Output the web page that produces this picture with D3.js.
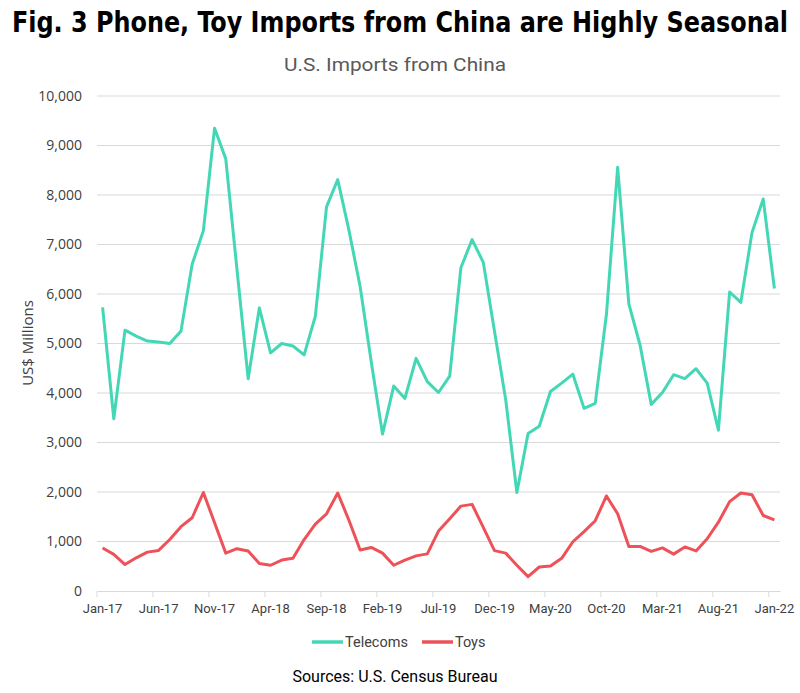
<!DOCTYPE html>
<html>
<head>
<meta charset="utf-8">
<script src="https://cdn.jsdelivr.net/npm/d3@7/dist/d3.min.js"></script>
<style>
  html, body { margin: 0; padding: 0; background: #fff; }
  svg { display: block; }
</style>
</head>
<body>
<svg id="chart" width="800" height="693"></svg>
<script>
const monthNames = ["Jan","Feb","Mar","Apr","May","Jun","Jul","Aug","Sep","Oct","Nov","Dec"];
const startYear = 17;
const monthCount = 61;
const months = d3.range(monthCount).map(i => monthNames[i % 12] + "-" + (startYear + Math.floor(i / 12)));

const telecoms = [
  5730, 3480, 5270, 5150, 5050, 5030, 5000, 5250, 6600, 7280, 9350, 8730,
  6500, 4290, 5720, 4810, 5000, 4950, 4770, 5550, 7760, 8310, 7290, 6150,
  4620, 3170, 4140, 3890, 4700, 4230, 4010, 4340, 6530, 7100, 6640, 5250,
  3870, 1990, 3180, 3330, 4030, 4200, 4380, 3690, 3790, 5590, 8560, 5800,
  4970, 3770, 4010, 4370, 4290, 4490, 4200, 3250, 6040, 5830, 7240, 7920,
  6110
];
const toys = [
  870, 740, 535, 670, 785, 820, 1040, 1300, 1480, 1990, 1380, 765,
  855, 810, 555, 520, 625, 660, 1040, 1350, 1560, 1980, 1430, 830,
  880, 765, 520, 625, 710, 750, 1210, 1460, 1715, 1750, 1285, 815,
  765, 520, 290, 485, 505, 660, 995, 1200, 1420, 1920, 1560, 900,
  900, 800, 870, 745, 890, 810, 1055, 1390, 1805, 1980, 1945, 1525,
  1435
];
const yTicks = [0, 1000, 2000, 3000, 4000, 5000, 6000, 7000, 8000, 9000, 10000];
const seriesNames = ["Telecoms", "Toys"];
const seriesColors = ["#44D7B6", "#EE5259"];

const svg = d3.select("#chart");
const plotLeft = 97, plotRight = 780, plotTop = 96, plotBottom = 591;

const x = d3.scaleBand().domain(months).range([plotLeft, plotRight]).padding(0);
const y = d3.scaleLinear().domain([0, 10000]).range([plotBottom, plotTop]);
const cx = d => x(d) + x.bandwidth() / 2;

// Title
svg.append("text")
  .attr("x", 400).attr("y", 32)
  .attr("text-anchor", "middle")
  .attr("font-family", "'DejaVu Sans Condensed', 'DejaVu Sans', sans-serif")
  .attr("font-stretch", "condensed")
  .attr("font-weight", "bold")
  .attr("font-size", 26)
  .attr("fill", "#000")
  .attr("textLength", 776)
  .attr("lengthAdjust", "spacingAndGlyphs")
  .attr("transform", "translate(0,-4) scale(1,1.12)")
  .text("Fig. 3 Phone, Toy Imports from China are Highly Seasonal");

// Subtitle
svg.append("text")
  .attr("x", 395).attr("y", 71)
  .attr("text-anchor", "middle")
  .attr("font-family", "Roboto, sans-serif")
  .attr("font-size", 18.5)
  .attr("fill", "#595959")
  .attr("textLength", 222)
  .attr("lengthAdjust", "spacingAndGlyphs")
  .text("U.S. Imports from China");

// Gridlines
svg.append("g").selectAll("line").data(yTicks.filter(t => t > 0)).join("line")
  .attr("x1", plotLeft).attr("x2", plotRight)
  .attr("y1", d => y(d)).attr("y2", d => y(d))
  .attr("stroke", "#d9d9d9").attr("stroke-width", 1);

// Y axis labels
const yAxis = d3.axisLeft(y).tickValues(yTicks).tickSize(0).tickPadding(15)
  .tickFormat(d3.format(","));
const gy = svg.append("g").attr("transform", `translate(${plotLeft},0)`).call(yAxis);
gy.select(".domain").remove();
gy.selectAll("text")
  .attr("font-family", "'Open Sans', sans-serif")
  .attr("font-size", 14)
  .attr("fill", "#404040");

// X axis
const xAxis = d3.axisBottom(x).tickValues(months.filter((d, i) => i % 5 === 0))
  .tickSize(0).tickPadding(13);
const gx = svg.append("g").attr("transform", `translate(0,${plotBottom})`).call(xAxis);
gx.select(".domain").attr("stroke", "#d9d9d9");
gx.selectAll("text")
  .attr("font-family", "Roboto, sans-serif")
  .attr("font-size", 13)
  .attr("fill", "#404040");
gx.selectAll(".tick").append("line")
  .attr("x1", -x.bandwidth() / 2).attr("x2", -x.bandwidth() / 2)
  .attr("y1", 0).attr("y2", 6)
  .attr("stroke", "#d9d9d9");

// Y axis title
svg.append("text")
  .attr("transform", "translate(33,343) rotate(-90)")
  .attr("text-anchor", "middle")
  .attr("font-family", "'Open Sans', sans-serif")
  .attr("font-size", 15)
  .attr("fill", "#404040")
  .text("US$ Millions");

// Lines
const line = d3.line().x((d, i) => cx(months[i])).y(d => y(d));
[telecoms, toys].forEach((vals, k) => {
  svg.append("path")
    .datum(vals)
    .attr("d", line)
    .attr("fill", "none")
    .attr("stroke", seriesColors[k])
    .attr("stroke-width", 3)
    .attr("stroke-linejoin", "round");
});

// Legend
const legendX = [312, 422];
seriesNames.forEach((name, k) => {
  const g = svg.append("g").attr("transform", `translate(${legendX[k]},642)`);
  g.append("line").attr("x1", 0).attr("x2", 31).attr("y1", 0).attr("y2", 0)
    .attr("stroke", seriesColors[k]).attr("stroke-width", 3.5);
  g.append("text").attr("x", 33).attr("y", 5)
    .attr("font-family", "Roboto, sans-serif")
    .attr("font-size", 14.5)
    .attr("fill", "#404040")
    .text(name);
});

// Source
svg.append("text")
  .attr("x", 395).attr("y", 682)
  .attr("text-anchor", "middle")
  .attr("font-family", "Roboto, sans-serif")
  .attr("font-size", 16)
  .attr("fill", "#000")
  .text("Sources: U.S. Census Bureau");
</script>
</body>
</html>
